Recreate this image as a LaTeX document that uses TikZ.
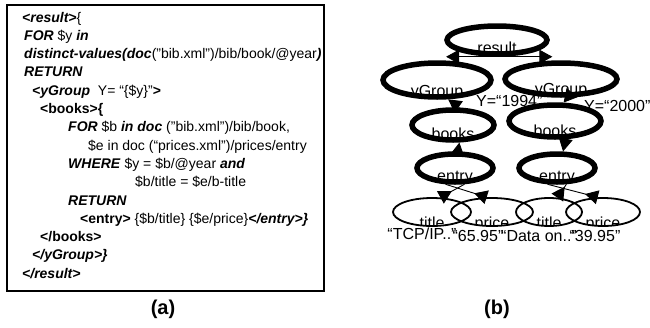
\documentclass[tikz,border=0pt]{standalone}
\usepackage{fontspec}
\setmainfont{Liberation Sans}
\usetikzlibrary{shapes.geometric,arrows.meta}

\newcommand{\kw}[1]{\textbf{\textit{#1}}}

\tikzset{
  codeline/.style={anchor=base west,inner sep=0pt,font=\fontsize{14}{17}\selectfont},
  tnode/.style={ellipse,draw,fill=white,line width=5.5pt,inner sep=0pt,
    path picture={\node[anchor=base,inner sep=0pt,font=\fontsize{16}{18}\selectfont] at ([yshift=0.5pt]path picture bounding box.south) {#1};}},
  leaf/.style={ellipse,draw,line width=1.8pt,inner sep=0pt,
    minimum width=78pt,minimum height=28pt,
    path picture={\node[anchor=base,inner sep=0pt,font=\fontsize{16}{18}\selectfont] at ([yshift=-2pt]path picture bounding box.south) {#1};}},
  arr/.style={-{Triangle[length=13pt,width=14pt]},line width=0.9pt},
  rarr/.style={-{Triangle[length=13pt,width=14pt,reversed]},line width=0.9pt},
  lbl/.style={inner sep=0pt,font=\fontsize{16}{18}\selectfont}
}

\begin{document}
\begin{tikzpicture}[x=1pt,y=-1pt]
  \useasboundingbox (0,0) rectangle (650,327);
  % (a) query
  \draw[line width=1.6pt] (7,5) rectangle (324,291);
  \node[codeline] (l1)  at (22,22)   {\kw{<result>}\{};
  \node[codeline] (l2)  at (24,40.3) {\kw{FOR} \$y \kw{in}};
  \node[codeline] (l3)  at (24,58.6) {\kw{distinct-values(doc}("bib.xml")/bib/book/@year\kw{)}};
  \node[codeline] (l4)  at (24,76.9) {\kw{RETURN}};
  \node[codeline] (l5)  at (32,95.2) {\kw{<yGroup}\ \ Y= “\{\$y\}”\textbf{>}};
  \node[codeline] (l6)  at (40,113.5) {\textbf{<books>\{}};
  \node[codeline] (l7)  at (68,131.8) {\kw{FOR} \$b \kw{in doc} ("bib.xml")/bib/book,};
  \node[codeline] (l8)  at (88,150.1) {\$e in doc (“prices.xml”)/prices/entry};
  \node[codeline] (l9)  at (68,168.4) {\kw{WHERE} \$y = \$b/@year \kw{and}};
  \node[codeline] (l10) at (135,186.7) {\$b/title = \$e/b-title};
  \node[codeline] (l11) at (68,205)   {\kw{RETURN}};
  \node[codeline] (l12) at (80,223.3) {\textbf{<entry>} \{\$b/title\} \{\$e/price\}\kw{</entry>\}}};
  \node[codeline] (l13) at (40,241.6) {\textbf{</books>}};
  \node[codeline] (l14) at (32,259.9) {\kw{</yGroup>\}}};
  \node[codeline] (l15) at (22,278.2) {\kw{</result>}};
  \node[font=\fontsize{20}{22}\selectfont\bfseries] (capa) at (163,309) {(a)};

  % (b) result tree
  \node[tnode=result,minimum width=100pt,minimum height=28pt] (res) at (497,40) {};
  \node[tnode=yGroup,minimum width=108pt,minimum height=34pt] (ygl) at (437,80) {};
  \node[tnode=yGroup,minimum width=112pt,minimum height=32pt] (ygr) at (561,79) {};
  \node[lbl,anchor=west] (y1) at (476,101) {Y=“1994”};
  \node[lbl,anchor=west] (y2) at (584,106) {Y=“2000”};
  \node[tnode=books,minimum width=82pt,minimum height=30pt] (bkl) at (453,125) {};
  \node[tnode=books,minimum width=92pt,minimum height=32pt] (bkr) at (555,121) {};
  \node[tnode=entry,minimum width=76pt,minimum height=28pt] (enl) at (455,168) {};
  \node[tnode=entry,minimum width=76pt,minimum height=28pt] (enr) at (557,168) {};
  \node[leaf=title] (til) at (432,212) {};
  \node[leaf=price,minimum width=82pt] (prl) at (492,212) {};
  \node[leaf=title,minimum width=66pt] (tir) at (549,212) {};
  \node[leaf=price,minimum width=74pt] (prr) at (603,212) {};
  \node[lbl] (v1) at (422,234) {“TCP/IP..”};
  \node[lbl] (v2) at (478,236) {“65.95”};
  \node[lbl] (v3) at (539,236) {“Data on..”};
  \node[lbl] (v4) at (595,236) {“39.95”};
  \node[font=\fontsize{20}{22}\selectfont\bfseries] (capb) at (497,309) {(b)};

  \draw[arr] (res.south) -- (res.south -| ygl.65);
  \draw[arr] (res.south) -- (res.south -| ygr.115);
  \draw[arr] (bkl.70) -- (ygl.-60);
  \draw[arr] (ygr.-70) -- (bkr.65);
  \draw[arr] (enl.80) -- (bkl.-70);
  \draw[arr] (bkr.-60) -- (enr.70);
  \draw[rarr] (enl.-60) -- (til.60);
  \draw[rarr] (enl.-120) -- (prl.110);
  \draw[rarr] (enr.-60) -- (tir.60);
  \draw[rarr] (enr.-120) -- (prr.110);
\end{tikzpicture}
\end{document}
